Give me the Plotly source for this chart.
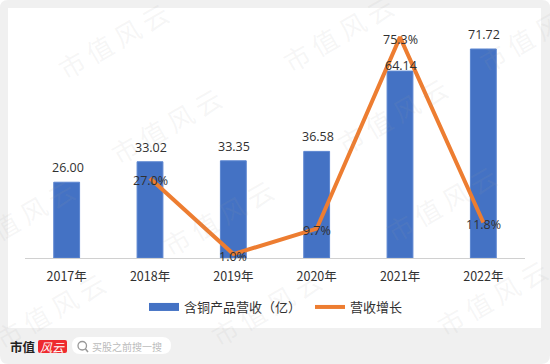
import plotly.graph_objects as go

categories = ["2017年", "2018年", "2019年", "2020年", "2021年", "2022年"]
revenue = [26.00, 33.02, 33.35, 36.58, 64.14, 71.72]
growth_years = categories[1:]
growth = [27.0, 1.0, 9.7, 75.3, 11.8]
revenue_labels = ["26.00", "33.02", "33.35", "36.58", "64.14", "71.72"]
growth_labels = ["27.0%", "1.0%", "9.7%", "75.3%", "11.8%"]
series_names = ["含铜产品营收（亿）", "营收增长"]
watermark_text = "市 值 风 云"
watermarks = [(112, 40), (165, 125), (217, 217), (265, 307), (337, 33), (391, 115), (440, 203), (491, 297),
              (18, 217), (49, 310), (533, 33)]
label_shift = [15, 14.5, 14.5, 15, 6, 14.5]

W, H = 550, 364
L, R, T, B = 25, 25, 20, 106
FONT = "Noto Sans CJK SC, Noto Sans, sans-serif"
NUMF = "Open Sans, sans-serif"
TXT = "#303030"
BLUE = "#4472C4"
ORANGE = "#ED7D31"

def px(x): return (x - L) / (W - L - R)
def py(y): return 1 - (y - T) / (H - T - B)

fig = go.Figure()
fig.add_bar(x=categories, y=revenue, name=series_names[0], width=0.31, showlegend=False,
            marker=dict(color=BLUE, line=dict(color="#5B85D0", width=1)))
# legend entry drawn as a wide swatch
fig.add_scatter(x=[None], y=[None], name=series_names[0], mode="lines", line=dict(color=BLUE, width=8))
fig.add_scatter(x=growth_years, y=growth, name=series_names[1], yaxis="y2", mode="lines",
                line=dict(color=ORANGE, width=4, shape="linear"))

shapes = [
    dict(type="path", xref="paper", yref="paper", layer="below", line_width=0, fillcolor="#F0F0F0",
         path=f"M {px(8)},{py(0)} L {px(542)},{py(0)} Q {px(550)},{py(0)} {px(550)},{py(8)} L {px(550)},{py(355)} "
              f"Q {px(550)},{py(364)} {px(541)},{py(364)} L {px(8)},{py(364)} Q {px(0)},{py(364)} {px(0)},{py(355)} "
              f"L {px(0)},{py(8)} Q {px(0)},{py(0)} {px(8)},{py(0)} Z"),
    dict(type="rect", xref="paper", yref="paper", layer="below", line_width=0, fillcolor="#FFFFFF",
         x0=px(8), x1=px(541), y0=py(328), y1=py(8)),
    dict(type="path", xref="paper", yref="paper", layer="below", line_width=0, fillcolor="#EE2A2E",
         path=f"M {px(40)},{py(340)} L {px(65)},{py(340)} Q {px(67)},{py(340)} {px(67)},{py(342)} L {px(67)},{py(351)} "
              f"Q {px(67)},{py(353)} {px(65)},{py(353)} L {px(40)},{py(353)} Q {px(38)},{py(353)} {px(38)},{py(351)} "
              f"L {px(38)},{py(342)} Q {px(38)},{py(340)} {px(40)},{py(340)} Z"),
    dict(type="path", xref="paper", yref="paper", layer="below", line_width=0, fillcolor="#FFFFFF",
         path=f"M {px(80)},{py(337)} L {px(162)},{py(337)} Q {px(171)},{py(337)} {px(171)},{py(345.5)} "
              f"Q {px(171)},{py(354)} {px(162)},{py(354)} L {px(80)},{py(354)} Q {px(72)},{py(354)} {px(72)},{py(345.5)} "
              f"Q {px(72)},{py(337)} {px(80)},{py(337)} Z"),
    dict(type="circle", xref="paper", yref="paper", line=dict(color="#999999", width=1.3),
         x0=px(78), x1=px(86.5), y0=py(350), y1=py(341.5)),
    dict(type="line", xref="paper", yref="paper", line=dict(color="#999999", width=1.5),
         x0=px(85.5), x1=px(88), y0=py(349), y1=py(352)),
]

def note(text, x, y, size, color, family=FONT, angle=0):
    return dict(text=text, x=px(x), y=py(y), xref="paper", yref="paper", showarrow=False,
                xanchor="center", yanchor="middle", textangle=angle,
                font=dict(size=size, color=color, family=family))

annotations = [note(watermark_text, x, y, 26, "rgba(160,160,160,0.10)", angle=-30) for x, y in watermarks]
annotations += [
    note("<b>市值</b>", 23, 346.5, 12.5, "#222222"),
    note("<i>风云</i>", 52.5, 346.5, 12, "#FFFFFF"),
    note("买股之前搜一搜", 127, 346, 10, "#BBBBBB"),
]
annotations += [
    dict(text=t, x=c, y=v, xref="x", yref="y", yshift=s, xshift=1, showarrow=False,
         xanchor="center", yanchor="middle", font=dict(size=12.5, color=TXT, family=NUMF))
    for c, v, t, s in zip(categories, revenue, revenue_labels, label_shift)
]
annotations += [
    dict(text=t, x=c, y=v, xref="x", yref="y2", yshift=-2, showarrow=False,
         xanchor="center", yanchor="middle", font=dict(size=12.5, color=TXT, family=NUMF))
    for c, v, t in zip(growth_years, growth, growth_labels)
]

fig.update_layout(
    width=W, height=H, margin=dict(l=L, r=R, t=T, b=B),
    paper_bgcolor="white", plot_bgcolor="rgba(0,0,0,0)",
    showlegend=True, font=dict(family=FONT, color=TXT),
    xaxis=dict(type="category", categoryorder="array", categoryarray=categories, showgrid=False, ticks="",
               showline=True, linecolor="#D0D0D0", linewidth=1, ticklabelstandoff=7,
               tickfont=dict(size=12.5, color=TXT, family=FONT)),
    yaxis=dict(range=[0, 81.67], visible=False, showgrid=False),
    yaxis2=dict(range=[-0.34, 81.17], overlaying="y", side="right", visible=False, showgrid=False),
    legend=dict(orientation="h", x=px(144), xanchor="left", y=py(307), yanchor="middle", itemwidth=30,
                entrywidth=121, entrywidthmode="pixels",
                font=dict(size=13, color=TXT, family=FONT), bgcolor="rgba(0,0,0,0)"),
    shapes=shapes, annotations=annotations,
)
fig.write_html("out.html", config={"displayModeBar": False},
               post_script="document.body.style.margin='0';")
